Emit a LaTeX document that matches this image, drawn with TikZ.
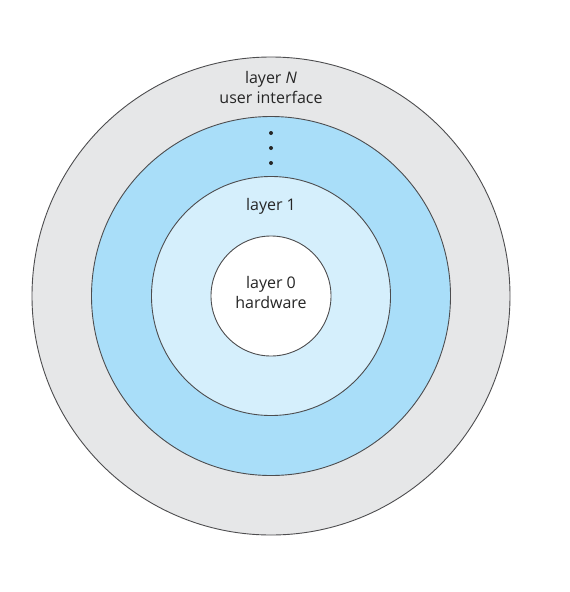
\documentclass[tikz,border=0pt]{standalone}
\usepackage{fontspec}
\setmainfont{Open Sans}
\definecolor{ringgray}{HTML}{E6E7E8}
\definecolor{ringblue}{HTML}{A9DEF9}
\definecolor{ringlight}{HTML}{D5EFFC}
\definecolor{edge}{HTML}{4D4D4F}
\begin{document}
\begin{tikzpicture}[x=1pt,y=-1pt,
  ring/.style={circle,draw=edge,line width=0.9pt,inner sep=0pt},
  lbl/.style={font=\fontsize{16}{20}\selectfont,text=black!85,align=center,inner sep=0pt},
  dotmark/.style={circle,fill=black!85,inner sep=0pt,minimum size=4pt}]
\useasboundingbox (0,0) rectangle (570,592);
\node[ring,fill=ringgray,minimum size=478pt] (outer) at (271,296) {};
\node[ring,fill=ringblue,minimum size=359pt] (mid) at (271,296) {};
\node[ring,fill=ringlight,minimum size=239pt] (inner) at (271,296) {};
\node[ring,fill=white,minimum size=120pt] (core) at (271,296) {};
\node[lbl] (tN) at (271,87) {layer \textit{N}\\user interface};
\node[dotmark] (d1) at (271,133) {};
\node[dotmark] (d2) at (271,148) {};
\node[dotmark] (d3) at (271,163) {};
\node[lbl] (t1) at (271,206) {layer 1};
\node[lbl] (t0) at (271,292) {layer 0\\hardware};
\end{tikzpicture}
\end{document}
